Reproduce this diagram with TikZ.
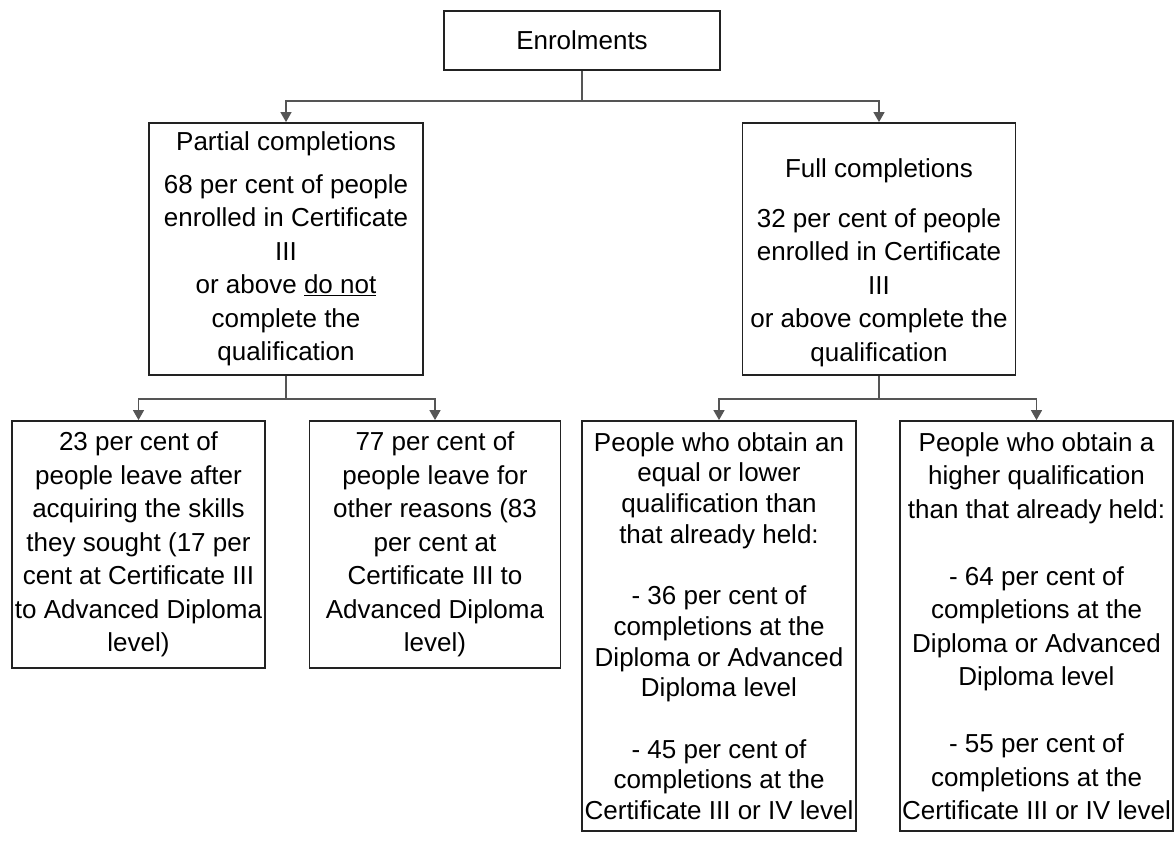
\documentclass[tikz,border=0pt]{standalone}
\usepackage{fontspec}
\setmainfont{Liberation Sans}
\usetikzlibrary{arrows.meta}
\definecolor{boxline}{HTML}{222222}
\definecolor{connline}{HTML}{555555}
\tikzset{
  box/.style={draw=boxline, line width=1.8pt, inner sep=0pt, align=center,
    font=\fontsize{26}{33.5}\selectfont},
  tightbox/.style={box, font=\fontsize{26}{30.7}\selectfont},
  txt/.style={inner sep=0pt, align=center, font=\fontsize{26}{33.5}\selectfont},
  conn/.style={draw=connline, line width=1.4pt,
    -{Triangle[width=11pt,length=10pt]}},
  plain/.style={draw=connline, line width=1.4pt}
}
\begin{document}
\begin{tikzpicture}[x=1pt,y=-1pt]
\useasboundingbox (0,0) rectangle (1176,846);

\node[box, minimum width=276pt, minimum height=59pt] (enrol) at (582,40.5) {Enrolments};

\node[box, minimum width=274pt, minimum height=252pt] (partial) at (286,249)
 {Partial completions\\[9.5pt]68 per cent of people\\enrolled in Certificate\\III\\or above \underline{do not}\\complete the\\qualification};

\node[box, minimum width=273pt, minimum height=252pt] (full) at (879,249) {};
\node[txt] (fulltext) at ([yshift=-13.5pt]full.center)
 {Full completions\\[16.5pt]32 per cent of people\\enrolled in Certificate\\III\\or above complete the\\qualification};

\node[box, minimum width=253pt, minimum height=247pt] (b1) at (138.5,544.5)
 {23 per cent of\\people leave after\\acquiring the skills\\they sought (17 per\\cent at Certificate III\\to Advanced Diploma\\level)};

\node[box, minimum width=251pt, minimum height=247pt] (b2) at (435,544.5)
 {77 per cent of\\people leave for\\other reasons (83\\per cent at\\Certificate III to\\Advanced Diploma\\level)};

\node[tightbox, minimum width=274pt, minimum height=410pt] (b3) at (719,626)
 {People who obtain an\\equal or lower\\qualification than\\that already held:\\[30.7pt]- 36 per cent of\\completions at the\\Diploma or Advanced\\Diploma level\\[30.7pt]- 45 per cent of\\completions at the\\Certificate III or IV level};

\node[box, minimum width=273pt, minimum height=410pt] (b4) at (1036.5,626)
 {People who obtain a\\higher qualification\\than that already held:\\[33.5pt]- 64 per cent of\\completions at the\\Diploma or Advanced\\Diploma level\\[33.5pt]- 55 per cent of\\completions at the\\Certificate III or IV level};

\coordinate (top) at ([yshift=-30pt]enrol.south);
\coordinate (pjoin) at ([yshift=-23pt]partial.south);
\coordinate (fjoin) at ([yshift=-23pt]full.south);

\draw[plain] (enrol.south) -- (top);
\draw[conn] (top) -| (partial.north);
\draw[conn] (top) -| (full.north);

\draw[plain] (partial.south) -- (pjoin);
\draw[conn] (pjoin) -| (b1.north);
\draw[conn] (pjoin) -| (b2.north);

\draw[plain] (full.south) -- (fjoin);
\draw[conn] (fjoin) -| (b3.north);
\draw[conn] (fjoin) -| (b4.north);
\end{tikzpicture}
\end{document}
